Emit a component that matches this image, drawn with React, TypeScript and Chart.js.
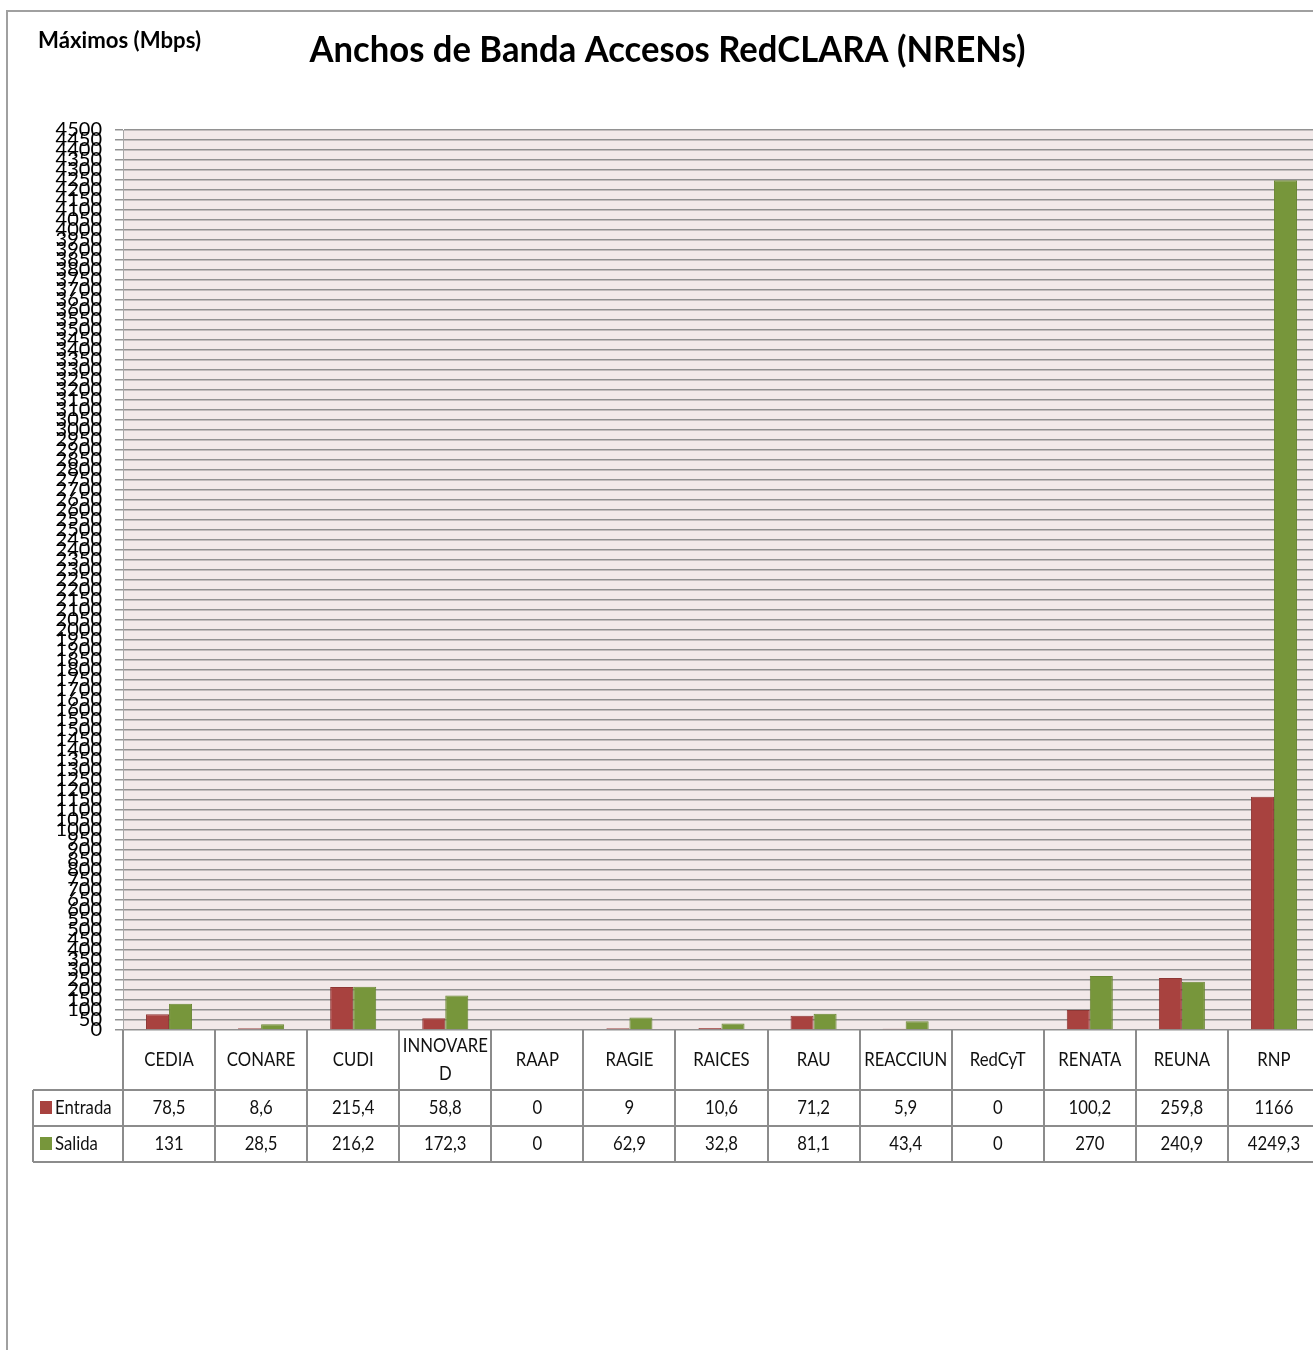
import { useEffect, useRef } from "react";
import { Chart, registerables } from "chart.js";

Chart.register(...registerables);

const categories = ["CEDIA", "CONARE", "CUDI", "INNOVARED", "RAAP", "RAGIE", "RAICES", "RAU", "REACCIUN", "RedCyT", "RENATA", "REUNA", "RNP"];
const entrada = [78.5, 8.6, 215.4, 58.8, 0, 9, 10.6, 71.2, 5.9, 0, 100.2, 259.8, 1166];
const salida = [131, 28.5, 216.2, 172.3, 0, 62.9, 32.8, 81.1, 43.4, 0, 270, 240.9, 4249.3];
const seriesNames = ["Entrada", "Salida"];
const yMin = 0;
const yMax = 4500;
const yStep = 50;
const titleText = "Anchos de Banda Accesos RedCLARA (NRENs)";
const unitText = "Máximos (Mbps)";

const RED = "#A8423F";
const RED_BORDER = "#8E3634";
const GREEN = "#77963B";
const GREEN_BORDER = "#6A8734";
const FONT = "Lato, 'Open Sans', sans-serif";

function fmt(v: number): string {
  return String(v).replace(".", ",");
}

function squeezed(ctx: CanvasRenderingContext2D, text: string, x: number, y: number, sx: number, align: CanvasTextAlign) {
  ctx.save();
  ctx.translate(x, y);
  ctx.scale(sx, 1);
  ctx.textAlign = align;
  ctx.fillText(text, 0, 0);
  ctx.restore();
}

function fitted(ctx: CanvasRenderingContext2D, text: string, x: number, y: number, width: number, align: CanvasTextAlign) {
  const w = ctx.measureText(text).width;
  squeezed(ctx, text, x, y, width / w, align);
}

const SQUEEZE = 0.88;

function wrapLabel(ctx: CanvasRenderingContext2D, text: string, maxW: number): string[] {
  if (ctx.measureText(text).width * SQUEEZE <= maxW) return [text];
  const lines: string[] = [];
  let cur = "";
  for (const ch of text) {
    if (ctx.measureText(cur + ch).width * SQUEEZE > maxW && cur) {
      lines.push(cur);
      cur = ch;
    } else cur += ch;
  }
  if (cur) lines.push(cur);
  return lines;
}

const decorPlugin = {
  id: "decor",
  beforeDraw(chart: any) {
    const ctx: CanvasRenderingContext2D = chart.ctx;
    const a = chart.chartArea;
    ctx.save();
    ctx.fillStyle = "#ffffff";
    ctx.fillRect(0, 0, chart.width, chart.height);
    ctx.strokeStyle = "#a0a0a0";
    ctx.lineWidth = 2;
    ctx.strokeRect(7, 11, chart.width + 50, chart.height + 50);
    ctx.fillStyle = "#F2E9E9";
    ctx.fillRect(a.left, a.top, a.right - a.left, a.bottom - a.top);
    ctx.restore();
  },
  afterDraw(chart: any) {
    const ctx: CanvasRenderingContext2D = chart.ctx;
    const a = chart.chartArea;
    const xs = chart.scales.x;
    ctx.save();
    // titles
    ctx.fillStyle = "#000000";
    ctx.textBaseline = "alphabetic";
    ctx.font = `bold 37px ${FONT}`;
    fitted(ctx, titleText, 667.5, 62, 716, "center");
    ctx.font = `bold 22px ${FONT}`;
    fitted(ctx, unitText, 38, 48, 163, "left");

    // data table
    const catW = xs.getPixelForValue(1) - xs.getPixelForValue(0);
    const bounds = categories.map((_, i) => xs.getPixelForValue(i) - catW / 2);
    bounds.push(bounds[bounds.length - 1] + catW);
    const top = a.bottom;
    const hdrB = top + 60;
    const r1B = hdrB + 36;
    const r2B = r1B + 36;
    const legL = 33;
    const right = bounds[bounds.length - 1];

    ctx.strokeStyle = "#8c8c8c";
    ctx.lineWidth = 2;
    const line = (x1: number, y1: number, x2: number, y2: number) => {
      ctx.beginPath();
      ctx.moveTo(x1, y1);
      ctx.lineTo(x2, y2);
      ctx.stroke();
    };
    bounds.forEach((b) => line(Math.round(b), top, Math.round(b), r2B));
    line(legL, hdrB, legL, r2B);
    [hdrB, r1B, r2B].forEach((y) => line(legL, y, right, y));

    ctx.fillStyle = "#111111";
    ctx.textBaseline = "middle";
    ctx.font = `19px ${FONT}`;
    const hdrC = (top + hdrB) / 2;
    categories.forEach((c, i) => {
      const cx = bounds[i] + catW / 2;
      const lines = wrapLabel(ctx, c, catW - 6);
      const lh = 28;
      lines.forEach((ln, k) => {
        const y = hdrC + (k - (lines.length - 1) / 2) * lh;
        squeezed(ctx, ln, cx, y, SQUEEZE, "center");
      });
    });
    const rows = [entrada, salida];
    const rowC = [(hdrB + r1B) / 2, (r1B + r2B) / 2];
    const cols = [RED, GREEN];
    rows.forEach((vals, r) => {
      vals.forEach((v, i) => {
        const cx = bounds[i] + catW / 2;
        squeezed(ctx, fmt(v), cx, rowC[r], SQUEEZE, "center");
      });
      ctx.fillStyle = cols[r];
      ctx.fillRect(40, rowC[r] - 7, 12, 13);
      ctx.fillStyle = "#111111";
      squeezed(ctx, seriesNames[r], 55, rowC[r], SQUEEZE, "left");
    });
    ctx.restore();
  },
};

export default function App() {
  const ref = useRef<HTMLCanvasElement | null>(null);
  useEffect(() => {
    if (!ref.current) return;
    const chart = new Chart(ref.current, {
      type: "bar",
      data: {
        labels: categories,
        datasets: [
          {
            label: seriesNames[0],
            data: entrada,
            backgroundColor: RED,
            borderColor: RED_BORDER,
            borderWidth: 1,
            categoryPercentage: 0.5,
            barPercentage: 1,
          },
          {
            label: seriesNames[1],
            data: salida,
            backgroundColor: GREEN,
            borderColor: GREEN_BORDER,
            borderWidth: 1,
            categoryPercentage: 0.5,
            barPercentage: 1,
          },
        ],
      },
      options: {
        responsive: false,
        animation: false,
        devicePixelRatio: 1,
        layout: { padding: { left: 0, top: 130, right: 10, bottom: 370 } },
        plugins: {
          legend: { display: false },
          tooltip: { enabled: false },
          title: { display: false },
        },
        scales: {
          x: { display: false },
          y: {
            min: yMin,
            max: yMax,
            afterFit: (s: any) => {
              s.width = 123;
            },
            ticks: {
              stepSize: yStep,
              autoSkip: false,
              padding: 13,
              color: "#000000",
              font: { family: FONT, size: 20 },
              callback: (v: any) => String(v),
            },
            grid: {
              color: "#929292",
              lineWidth: 1.5,
              tickLength: 8,
              tickColor: "#929292",
            },
            border: { color: "#a6a6a6", width: 1 },
          },
        },
      },
      plugins: [decorPlugin],
    });
    return () => chart.destroy();
  }, []);
  return (
    <div style={{ position: "fixed", left: 0, top: 0, width: 1313, height: 1350, overflow: "hidden", background: "#fff" }}>
      <canvas ref={ref} width={1330} height={1400} style={{ display: "block", width: 1330, height: 1400 }} />
    </div>
  );
}
